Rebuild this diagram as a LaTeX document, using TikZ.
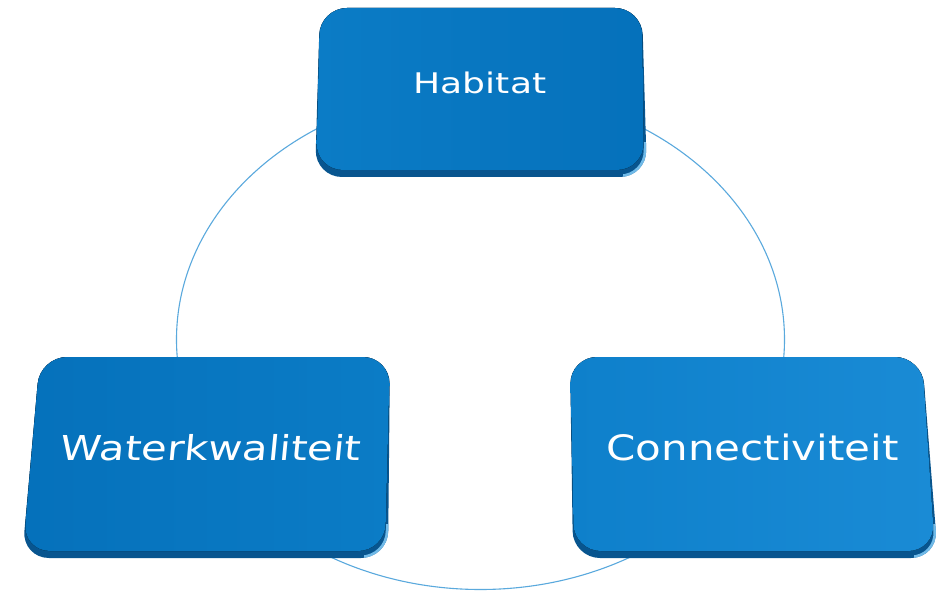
\documentclass[tikz,border=0pt]{standalone}
\usepackage{fontspec}
\newfontfamily\boxfont{DejaVu Sans}
\definecolor{ringblue}{HTML}{5AA9DD}
\definecolor{bevelblue}{HTML}{08558F}
\definecolor{hiblue}{HTML}{8AD4FF}
\definecolor{faceA}{HTML}{0B7CC6}
\definecolor{faceB}{HTML}{0571BB}
\definecolor{faceC}{HTML}{0E80CB}
\definecolor{faceD}{HTML}{1A8BD5}
% #1..#8 = TLx TLy TRx TRy BRx BRy BLx BLy ; #9 = face style
\newcommand\bevelbox[9]{%
  \fill[bevelblue, rounded corners=27] ({(#1+#3)/2},#2) -- (#3,#4) -- (#5,#6) -- (#7,#8) -- (#1,#2) -- cycle;
  \begin{scope}
    \clip ({#5-24},{#6-34}) rectangle ({#5+5},{#6+5});
    \clip[rounded corners=27] ({(#1+#3)/2},#2) -- (#3,#4) -- (#5,#6) -- (#7,#8) -- (#1,#2) -- cycle;
    \draw[hiblue, line width=5pt, opacity=0.8, rounded corners=27] ({(#1+#3)/2},#2) -- (#3,#4) -- (#5,#6) -- (#7,#8) -- (#1,#2) -- cycle;
  \end{scope}
  \fill[#9, rounded corners=27] ({(#1+#3)/2},#2) -- (#3,#4) -- ({#5-3},{#6-7}) -- ({#7+1},{#8-7}) -- (#1,#2) -- cycle;
}
\begin{document}
\begin{tikzpicture}[x=1pt,y=-1pt,
  ring/.style={draw=ringblue, line width=1.1pt},
  faceH/.style={left color=faceA, right color=faceB},
  faceW/.style={left color=faceB, right color=faceA},
  faceCn/.style={left color=faceC, right color=faceD},
  lbl/.style={text=white, inner sep=0pt, anchor=base, font=\boxfont}]
\useasboundingbox (0,0) rectangle (946,591);
\fill[white] (0,0) rectangle (946,591);
\coordinate (ctr) at (480.5,339.5);
\draw[ring] (ctr) ellipse [x radius=304, y radius=250];
% boxes
\bevelbox{320}{8}{642}{8}{647}{177}{315}{177}{faceH}
\bevelbox{40}{357}{390}{357}{388}{558}{22}{558}{faceW}
\bevelbox{570}{357}{922}{357}{938}{558}{573}{558}{faceCn}
% labels
\node[lbl, xscale=1.27] (hab) at (480,94) {\fontsize{28.4}{30}\selectfont Habitat};
\node[lbl, xscale=1.216, xslant=0.08] (wat) at (210,460) {\fontsize{34.3}{36}\selectfont Waterkwaliteit};
\node[lbl, xscale=1.2] (con) at (752.5,460) {\fontsize{35}{37}\selectfont Connectiviteit};
\end{tikzpicture}
\end{document}
